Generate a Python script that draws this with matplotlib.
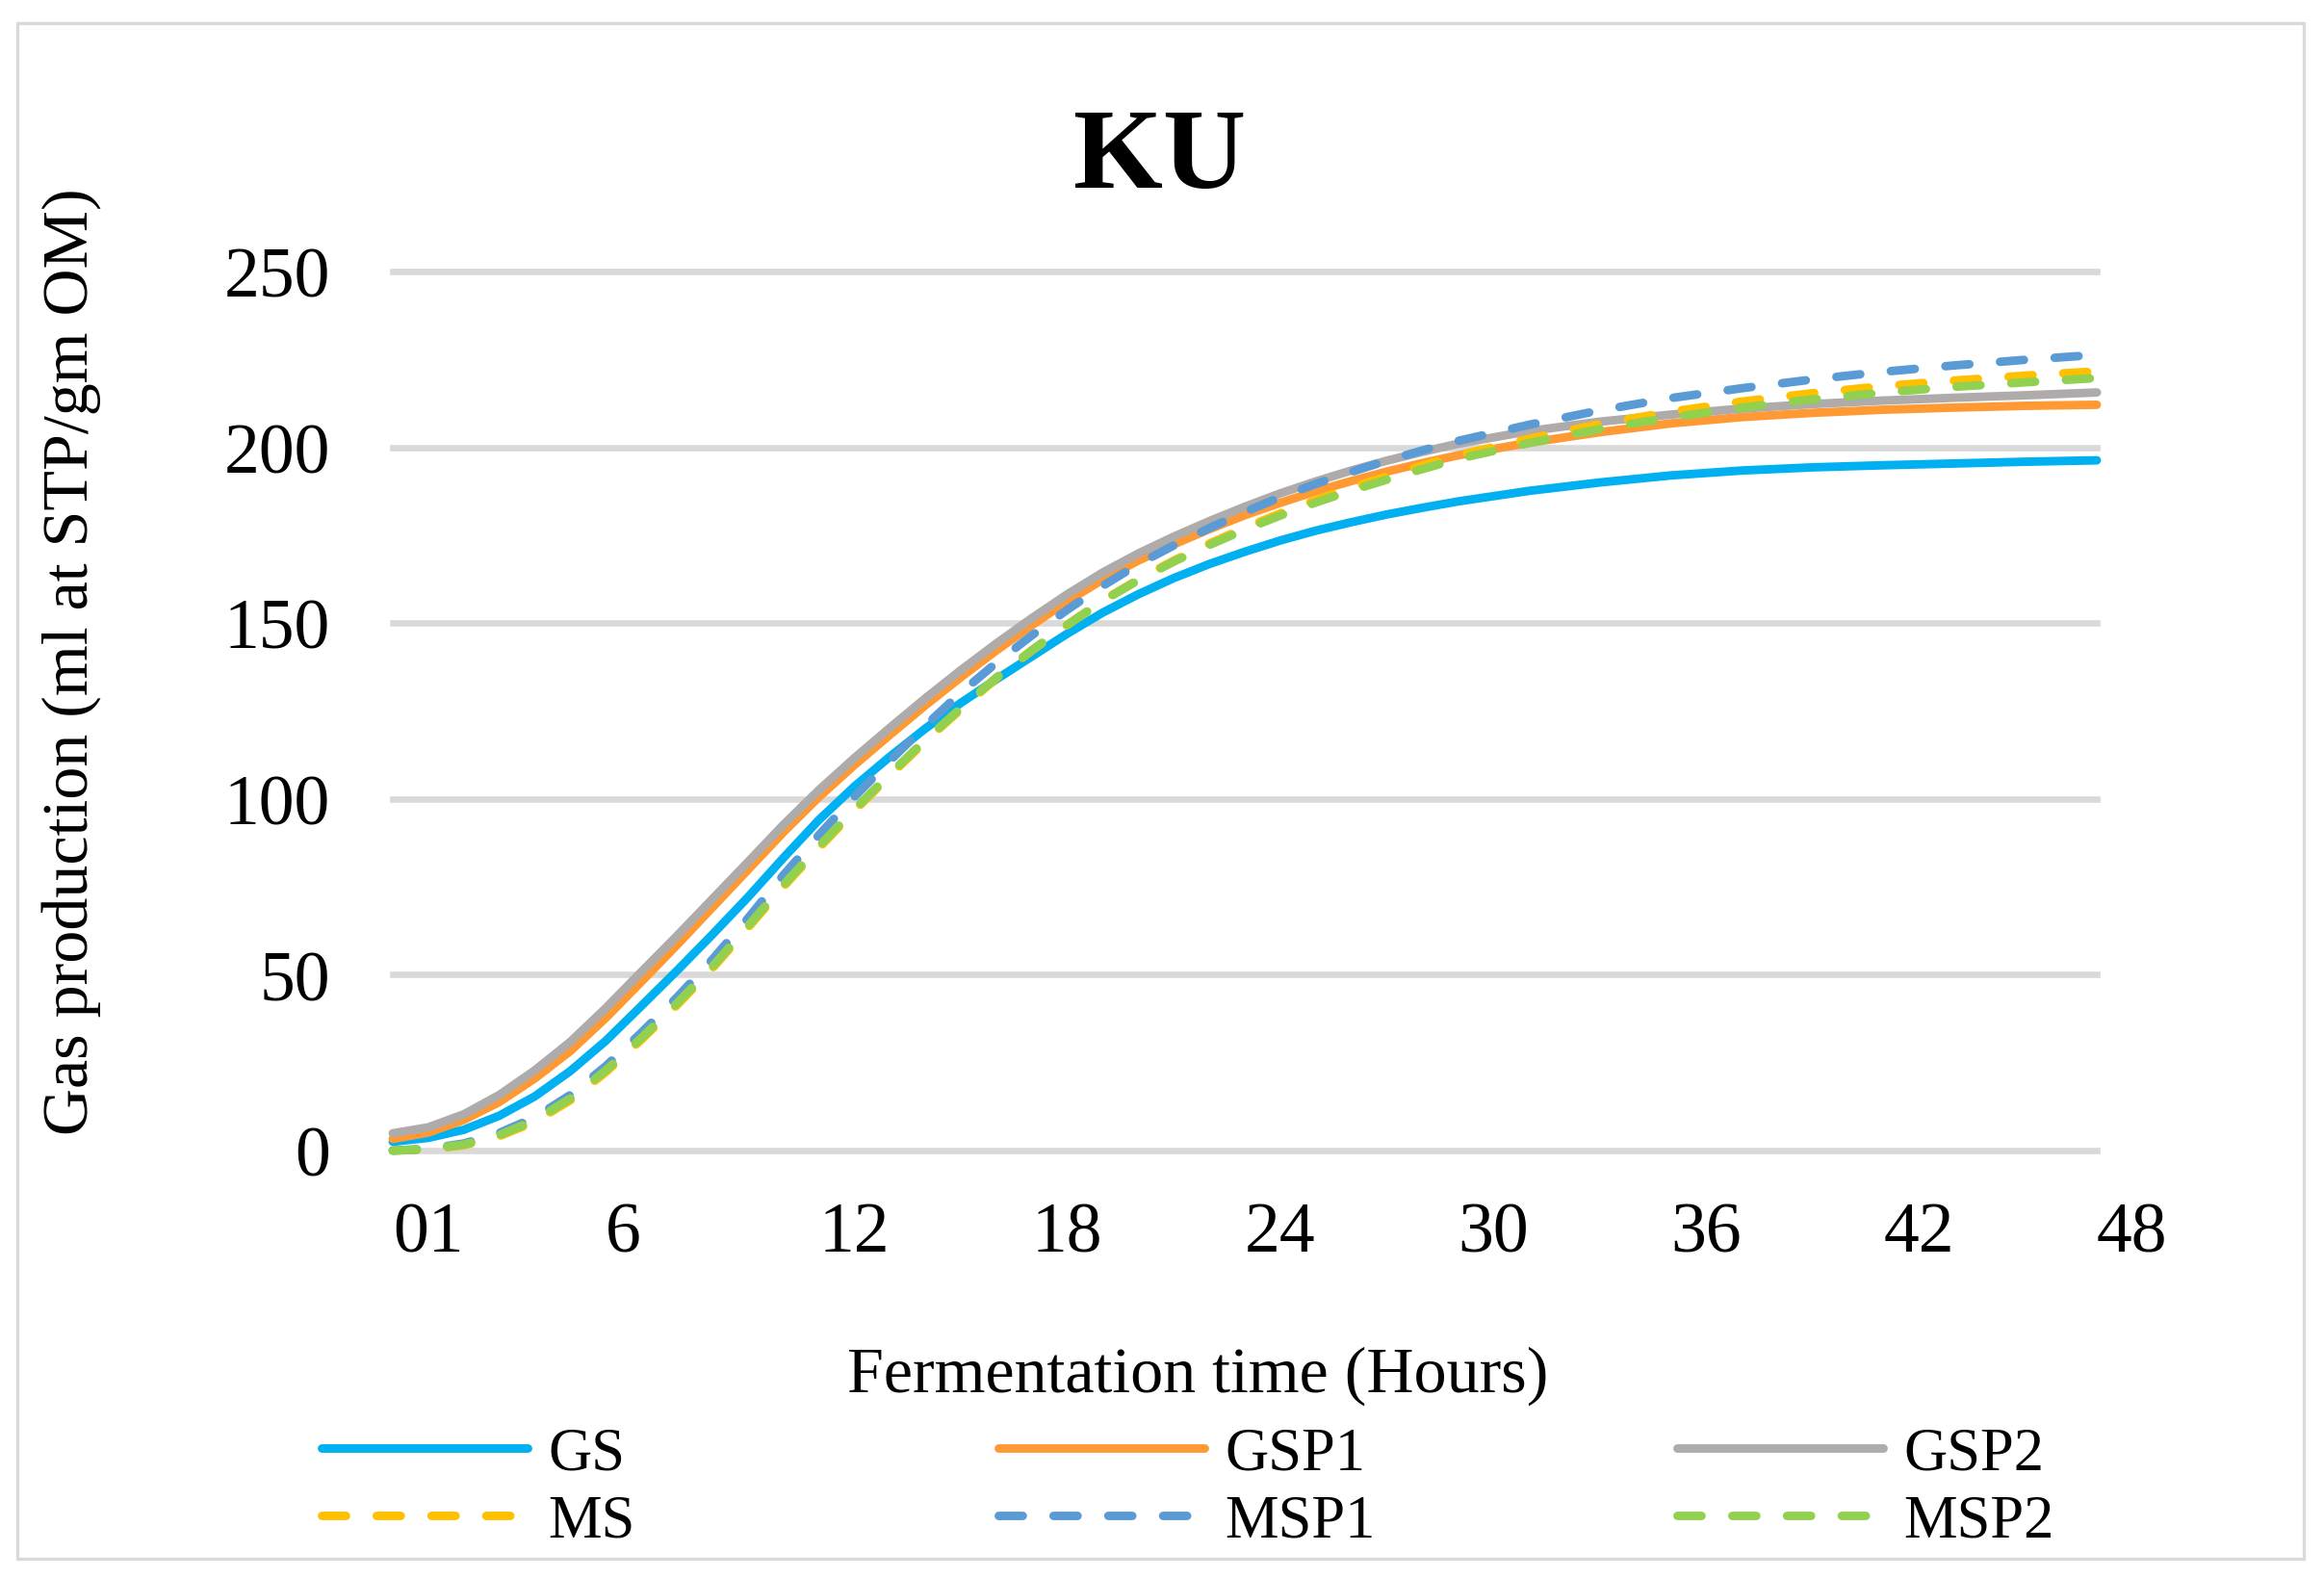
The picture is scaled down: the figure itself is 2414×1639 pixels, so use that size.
import matplotlib
matplotlib.use("Agg")
import matplotlib.pyplot as plt
from matplotlib.patches import Rectangle

# ---------------- data ----------------
hours = list(range(0, 31)) + [32, 34, 36, 38, 40, 42, 44, 46, 48]

GS = [2.5, 3.6, 5.9, 9.9, 15.4, 22.6, 31.2, 41.1, 51.1, 61.4, 72.0, 83.2, 94.0,
      103.5, 112.0, 120.0, 127.3, 134.0, 140.5, 147.0, 153.0, 158.2, 162.8,
      166.8, 170.3, 173.5, 176.3, 178.7, 180.9, 182.8, 184.6,
      187.6, 190.0, 192.0, 193.4, 194.3, 194.9, 195.4, 195.9, 196.3]
GSP1 = [3.3, 5.1, 8.7, 13.8, 20.5, 28.3, 37.7, 48.0, 58.4, 69.1, 79.8, 90.5,
        100.5, 109.6, 118.2, 126.6, 134.6, 142.2, 149.4, 156.2, 162.4, 167.8,
        172.4, 176.7, 180.7, 184.2, 187.5, 190.4, 193.1, 195.5, 197.7,
        201.3, 204.3, 206.8, 208.6, 209.8, 210.7, 211.3, 211.8, 212.1]
GSP2 = [4.9, 6.6, 10.3, 15.8, 22.8, 30.9, 40.5, 50.8, 61.0, 71.5, 82.0, 92.6,
        102.5, 111.6, 120.2, 128.6, 136.6, 144.2, 151.4, 158.2, 164.4, 169.8,
        174.6, 179.0, 183.1, 186.9, 190.3, 193.4, 196.2, 198.7, 201.0,
        204.6, 207.3, 209.3, 211.0, 212.3, 213.3, 214.1, 214.8, 215.6]
MS = [0, 0.3, 1.5, 4.1, 8.2, 14.3, 22.3, 31.5, 41.3, 51.8, 63.3, 75.0, 86.0,
      96.6, 106.6, 116.4, 125.5, 134.3, 142.2, 149.5, 156.4, 162.4, 167.8,
      172.6, 177.1, 181.2, 185.0, 188.5, 191.7, 194.8, 197.7,
      202.4, 206.6, 210.1, 213.0, 215.4, 217.4, 219.0, 220.4, 221.6]
MSP1 = [0, 0.5, 2.0, 5.0, 9.4, 15.8, 24.0, 33.5, 43.5, 54.3, 66.0, 78.3, 89.7,
        100.6, 110.8, 120.8, 130.2, 138.7, 146.5, 153.8, 160.6, 166.8, 172.1,
        177.0, 181.6, 185.8, 189.6, 193.0, 196.2, 199.1, 201.8,
        206.4, 210.5, 214.0, 216.8, 219.3, 221.5, 223.3, 224.9, 226.3]
MSP2 = [0, 0.4, 1.7, 4.4, 8.6, 14.8, 22.8, 32.0, 41.8, 52.3, 63.8, 75.5, 86.5,
        97.0, 107.0, 116.8, 125.8, 134.5, 142.3, 149.5, 156.3, 162.2, 167.5,
        172.2, 176.6, 180.6, 184.3, 187.7, 190.8, 193.8, 196.7,
        201.2, 205.2, 208.5, 211.3, 213.6, 215.6, 217.2, 218.5, 219.7]

series_names = ["GS", "GSP1", "GSP2", "MS", "MSP1", "MSP2"]
series_values = [GS, GSP1, GSP2, MS, MSP1, MSP2]

x_ticks = [0, 6, 12, 18, 24, 30, 36, 42, 48]
x_tick_labels = ["01", "6", "12", "18", "24", "30", "36", "42", "48"]
y_ticks = [0, 50, 100, 150, 200, 250]

title = "KU"
x_label = "Fermentation time (Hours)"
y_label = "Gas production (ml at STP/gm OM)"

# ---------------- style ----------------
colors = ["#00B0F0", "#FF9933", "#AFABAB", "#FFC000", "#5B9BD5", "#92D050"]
dash = (0, (2.8, 3.6))
styles = ["solid", "solid", "solid", dash, dash, dash]
LW = 6.4

plt.rcParams["font.family"] = ["Liberation Serif", "DejaVu Serif"]

W, H = 2414, 1640
fig = plt.figure(figsize=(W / 100, H / 100), dpi=100)
fig.patch.set_facecolor("white")

# outer border
fig.add_artist(Rectangle((18 / W, 1 - 1620 / H), (2393 - 18) / W, (1620 - 25) / H,
                         transform=fig.transFigure, fill=False,
                         edgecolor="#D9D9D9", linewidth=2.4))

left, right, top, bottom = 408, 2178, 283, 1196
ax = fig.add_axes([left / W, 1 - bottom / H, (right - left) / W, (bottom - top) / H])

handles = []
for name, vals, c, ls in zip(series_names, series_values, colors, styles):
    ln, = ax.plot(hours, vals, color=c, linestyle=ls, linewidth=LW,
                  solid_capstyle="round", dash_capstyle="round",
                  solid_joinstyle="round", label=name, clip_on=False, zorder=3)
    handles.append(ln)

ax.set_xlim(0, 48)
ax.set_ylim(0, 250)
ax.set_xticks(x_ticks)
ax.set_xticklabels(x_tick_labels, ha="left")
ax.set_yticks(y_ticks)
ax.tick_params(axis="both", length=0, labelsize=53)
ax.tick_params(axis="y", pad=47)
ax.tick_params(axis="x", pad=38)
for s in ax.spines.values():
    s.set_visible(False)
ax.grid(axis="y", color="#D9D9D9", linewidth=4.8, zorder=0)
ax.set_axisbelow(True)
for gl in ax.get_ygridlines():
    gl.set_clip_on(False)

ax.set_xlabel(x_label, fontsize=49, va="center", ha="center")
ax.xaxis.set_label_coords((1244 - left) / (right - left), (bottom - 1429) / (bottom - top))
ax.set_ylabel(y_label, fontsize=49, va="center", ha="center")
ax.yaxis.set_label_coords((74 - left) / (right - left), (bottom - 687) / (bottom - top))

fig.text(1205 / W, 1 - 167 / H, title, fontsize=86, fontweight="bold",
         ha="center", va="center")

# legend: 3 columns x 2 rows
col_x = [334, 1037, 1742]
row_y = [1512, 1582]
LEG_FS = 45
fs_px = LEG_FS * 100 / 72
for i in range(6):
    r, cidx = divmod(i, 3)
    fig.legend(handles=[handles[i]], labels=[series_names[i]],
               loc="center left",
               bbox_to_anchor=(col_x[cidx] / W, 1 - row_y[r] / H),
               frameon=False, fontsize=LEG_FS, borderpad=0, borderaxespad=0,
               handlelength=214 / fs_px, handletextpad=21 / fs_px)

fig.savefig("out.png", dpi=100)
